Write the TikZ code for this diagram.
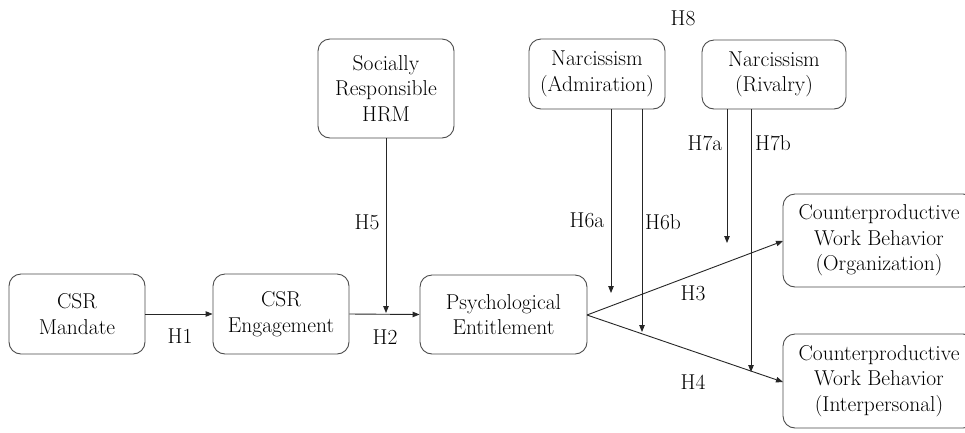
\documentclass[tikz,border=0pt]{standalone}
\usetikzlibrary{arrows.meta}
\begin{document}
\begin{tikzpicture}[x=1pt,y=-1pt,
  box/.style={draw=black!70, line width=0.9pt, rounded corners=12pt, align=center,
    inner sep=0pt, font=\fontsize{21.5}{25.5}\selectfont},
  lbl/.style={inner sep=0pt, font=\fontsize{21.5}{25.5}\selectfont},
  arr/.style={draw=black!85, line width=0.9pt, -{Triangle[length=7pt,width=5.5pt]}}]
\useasboundingbox (0,0) rectangle (965,432);
\clip (0,0) rectangle (965,432);
\fill[white] (0,0) rectangle (965,432);

\node[box, minimum width=136pt, minimum height=80pt] (man) at (77,314) {CSR\\Mandate};
\node[box, minimum width=136pt, minimum height=80pt] (eng) at (281,314) {CSR\\Engagement};
\node[box, minimum width=167pt, minimum height=79pt] (pe) at (503.5,314.5) {Psychological\\Entitlement};
\node[box, minimum width=136pt, minimum height=99pt] (hrm) at (386,88.5) {Socially\\Responsible\\HRM};
\node[box, minimum width=136pt, minimum height=70pt] (adm) at (597,74) {Narcissism\\(Admiration)};
\node[box, minimum width=144pt, minimum height=69pt] (riv) at (774,74.5) {Narcissism\\(Rivalry)};
\node[box, minimum width=192pt, minimum height=93pt] (org) at (879,240.5) {Counterproductive\\Work Behavior\\(Organization)};
\node[box, minimum width=192pt, minimum height=94pt] (int) at (879,381) {Counterproductive\\Work Behavior\\(Interpersonal)};

\coordinate (h5end) at (386,313);
\coordinate (h6aend) at (611,293);
\coordinate (h6bend) at (642,332);
\coordinate (h7aend) at (727,243);
\coordinate (h7bend) at (751,372);
\coordinate (peout) at (587,315);
\coordinate (orgin) at (783,241);
\coordinate (intin) at (783,382);

\draw[arr] (man.east) -- (eng.west);
\draw[arr] (eng.east) -- (pe.west);
\draw[arr] (hrm.south) -- (h5end);
\draw[arr] (peout) -- (orgin);
\draw[arr] (peout) -- (intin);
\draw[arr] (adm.south -| h6aend) -- (h6aend);
\draw[arr] (adm.south -| h6bend) -- (h6bend);
\draw[arr] (riv.south -| h7aend) -- (h7aend);
\draw[arr] (riv.south -| h7bend) -- (h7bend);

\node[lbl] (l1) at (180,336) {H1};
\node[lbl] (l2) at (385,337) {H2};
\node[lbl] (l5) at (367,222) {H5};
\node[lbl] (l6a) at (587,220) {H6a};
\node[lbl] (l6b) at (663,222) {H6b};
\node[lbl] (l7a) at (705,143) {H7a};
\node[lbl] (l7b) at (773,143) {H7b};
\node[lbl] (l8) at (683,18) {H8};
\node[lbl] (l3) at (693,293) {H3};
\node[lbl] (l4) at (693,382) {H4};
\end{tikzpicture}
\end{document}
